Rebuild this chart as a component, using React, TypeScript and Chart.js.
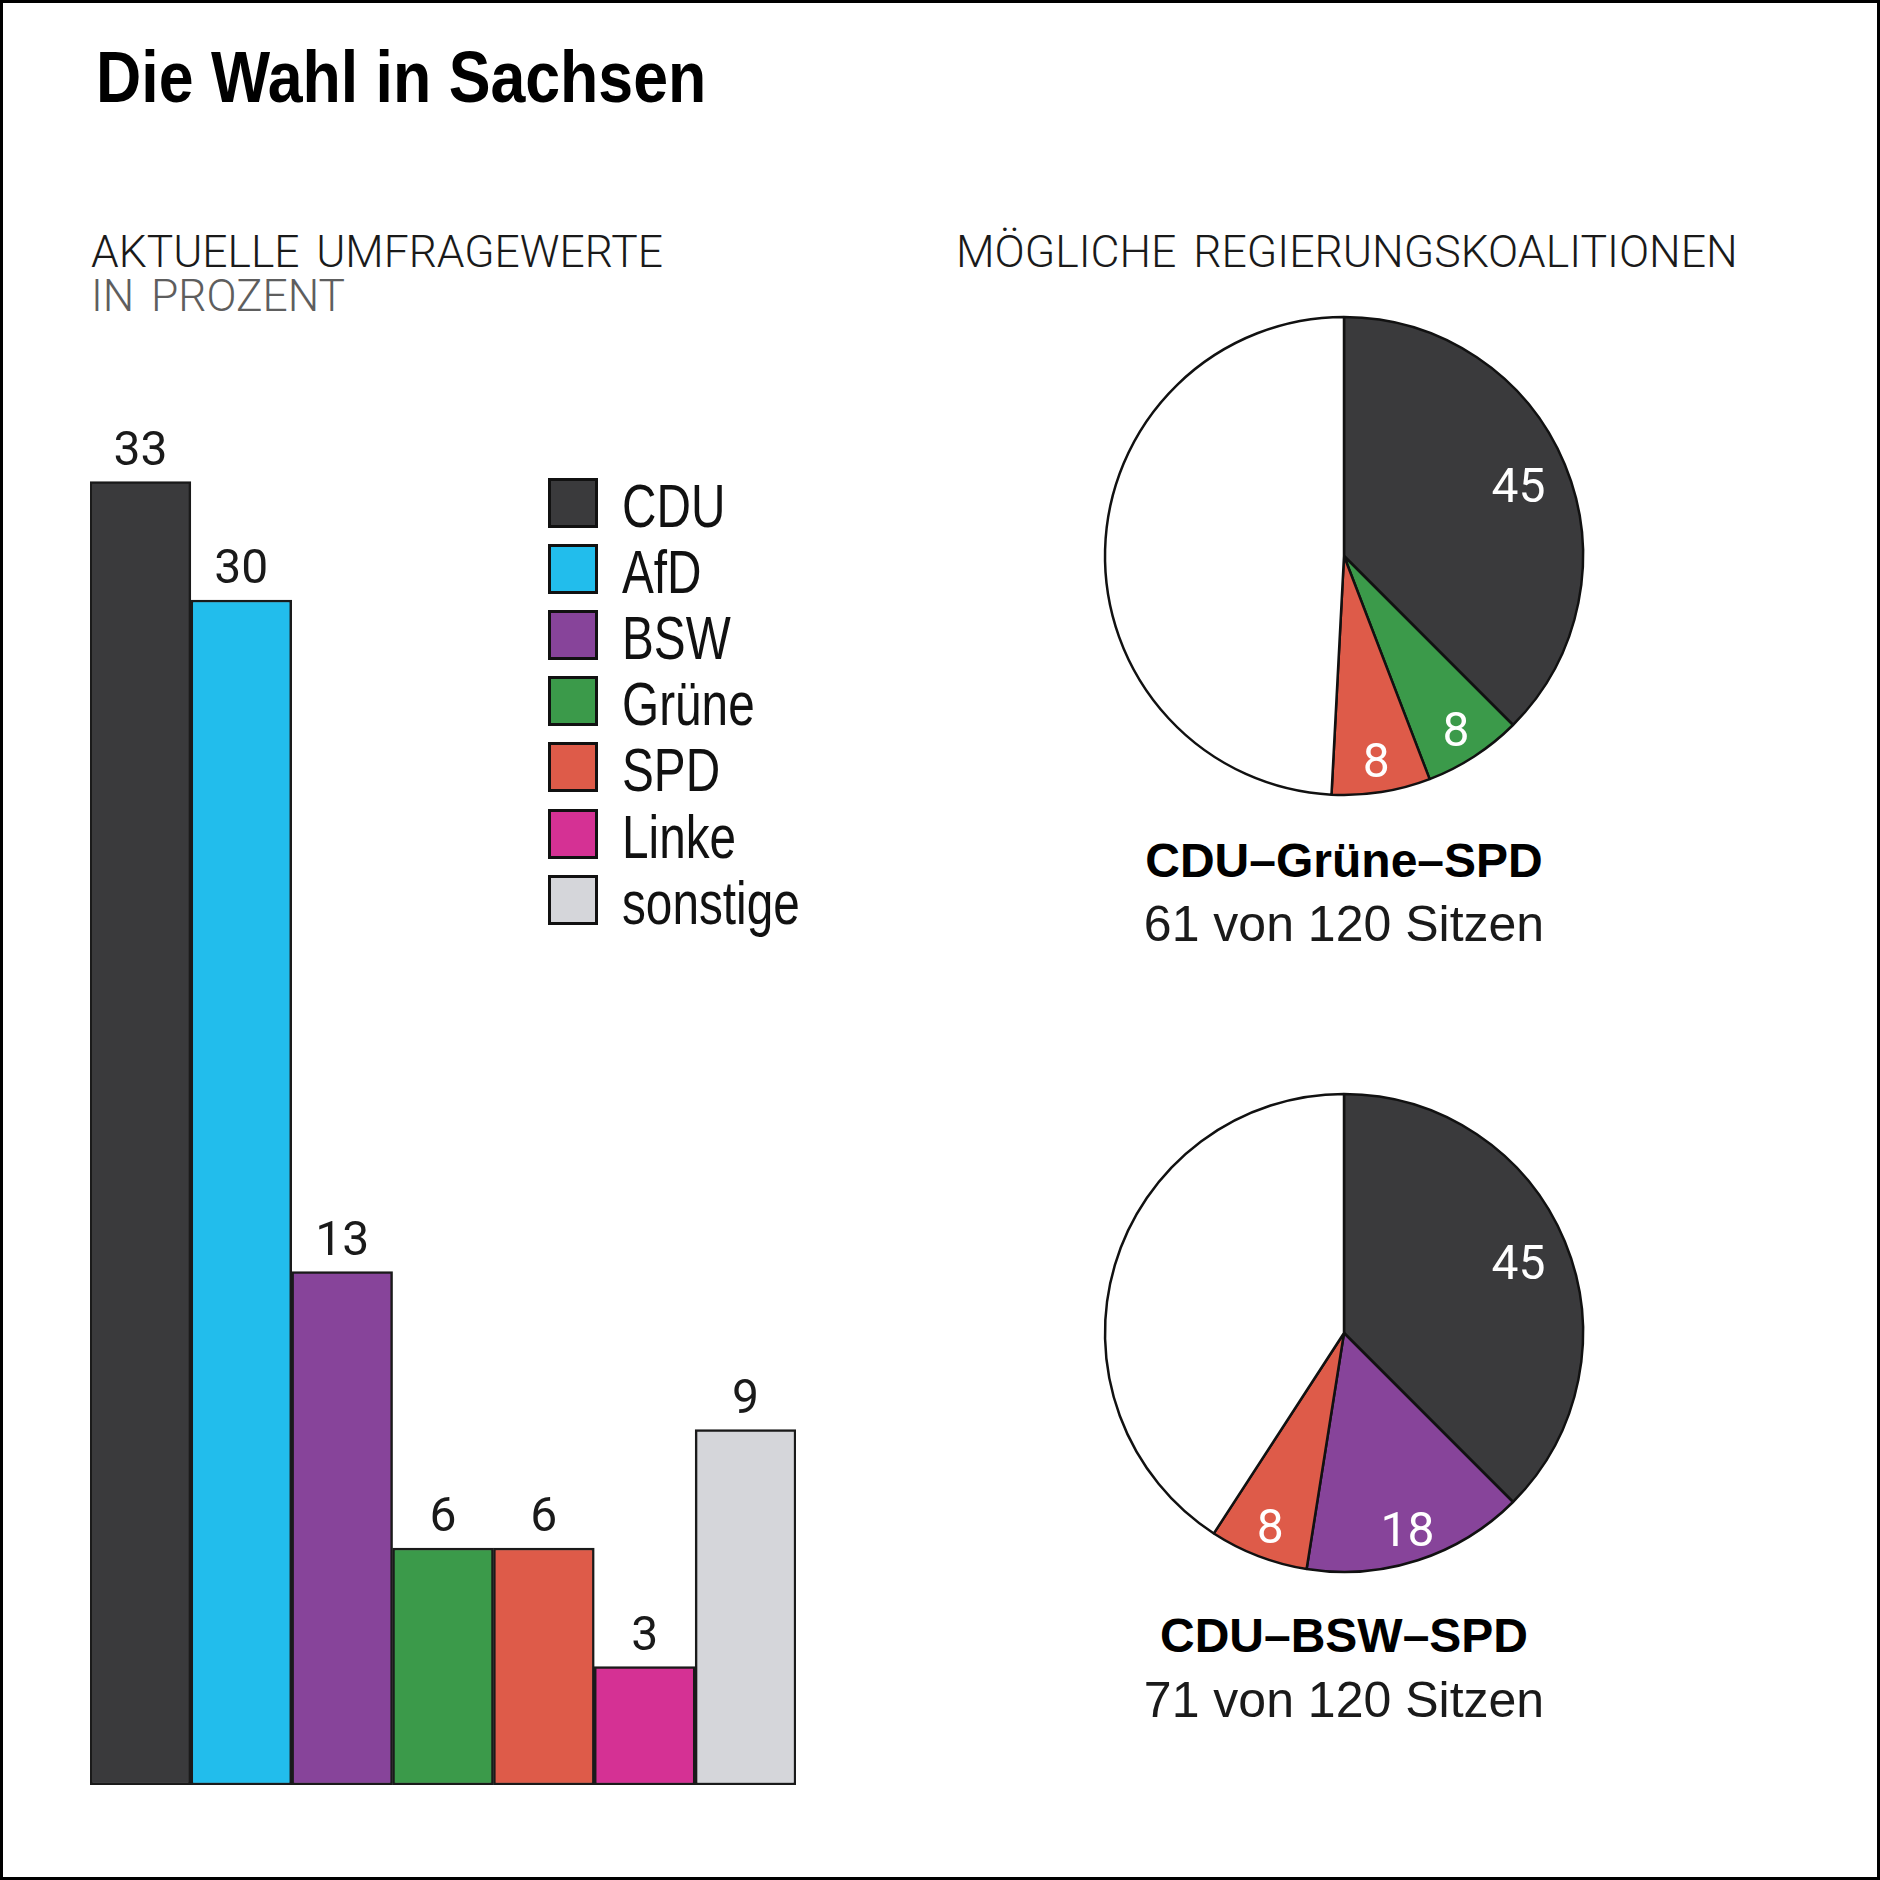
import React, { useEffect, useRef } from "react";
import { Chart, registerables } from "chart.js";

Chart.register(...registerables);

// ---------- data ----------
const parties = ["CDU", "AfD", "BSW", "Grüne", "SPD", "Linke", "sonstige"];
const pollValues = [33, 30, 13, 6, 6, 3, 9];
const partyColors = ["#3a3a3c", "#22bdec", "#87449a", "#3b9a4a", "#de5b49", "#d53194", "#d5d6da"];

const coalition1Parties = ["CDU", "Grüne", "SPD", ""];
const coalition1Seats = [45, 8, 8, 59];
const coalition1Colors = ["#3a3a3c", "#3b9a4a", "#de5b49", "#ffffff"];
const coalition1Name = "CDU–Grüne–SPD";
const coalition1Total = "61 von 120 Sitzen";

const coalition2Parties = ["CDU", "BSW", "SPD", ""];
const coalition2Seats = [45, 18, 8, 49];
const coalition2Colors = ["#3a3a3c", "#87449a", "#de5b49", "#ffffff"];
const coalition2Name = "CDU–BSW–SPD";
const coalition2Total = "71 von 120 Sitzen";

const title = "Die Wahl in Sachsen";
const leftHeading1 = "AKTUELLE UMFRAGEWERTE";
const leftHeading2 = "IN PROZENT";
const rightHeading = "MÖGLICHE REGIERUNGSKOALITIONEN";

// ---------- plugins ----------
const barLabelPlugin = {
  id: "barLabels",
  afterDatasetsDraw(chart: any) {
    const ctx = chart.ctx;
    const meta = chart.getDatasetMeta(0);
    const data = chart.data.datasets[0].data;
    ctx.save();
    ctx.font = "400 48px Roboto, 'Liberation Sans', sans-serif";
    ctx.fillStyle = "#1a1a1a";
    ctx.textAlign = "center";
    ctx.textBaseline = "alphabetic";
    meta.data.forEach((bar: any, i: number) => {
      ctx.fillText(String(data[i]), bar.x, bar.y - 17);
    });
    ctx.restore();
  },
};

const pieLabelPlugin = {
  id: "pieLabels",
  afterDatasetsDraw(chart: any) {
    const ctx = chart.ctx;
    const meta = chart.getDatasetMeta(0);
    const data = chart.data.datasets[0].data;
    const labels = chart.data.labels;
    ctx.save();
    ctx.font = "400 48px Roboto, 'Liberation Sans', sans-serif";
    ctx.fillStyle = "#ffffff";
    ctx.textAlign = "center";
    ctx.textBaseline = "alphabetic";
    meta.data.forEach((arc: any, i: number) => {
      if (!labels[i]) return;
      const p = arc.getProps(["x", "y", "startAngle", "endAngle", "outerRadius"], true);
      const mid = (p.startAngle + p.endAngle) / 2;
      const v = data[i];
      const f = v > 20 ? 0.79 : 0.86;
      ctx.fillText(
        String(v),
        p.x + Math.cos(mid) * p.outerRadius * f,
        p.y + Math.sin(mid) * p.outerRadius * f + 18
      );
    });
    ctx.restore();
  },
};

// ---------- components ----------
function BarChart() {
  const ref = useRef<HTMLCanvasElement | null>(null);
  useEffect(() => {
    if (!ref.current) return;
    const chart = new Chart(ref.current, {
      type: "bar",
      data: {
        labels: parties,
        datasets: [
          {
            data: pollValues,
            backgroundColor: partyColors,
            borderColor: "#1a1a1a",
            borderWidth: 2.5,
            borderSkipped: false,
            categoryPercentage: 1,
            barPercentage: 1,
          },
        ],
      },
      options: {
        animation: false,
        responsive: false,
        events: [],
        layout: { padding: 0 },
        plugins: { legend: { display: false }, tooltip: { enabled: false } },
        scales: {
          x: { display: false },
          y: { display: false, min: 0, max: 36 },
        },
      },
      plugins: [barLabelPlugin],
    } as any);
    return () => chart.destroy();
  }, []);
  return (
    <canvas
      ref={ref}
      width={706}
      height={1422}
      style={{ position: "absolute", left: 90, top: 363, width: 706, height: 1422 }}
    />
  );
}

function PieChart(props: { labels: string[]; values: number[]; colors: string[]; top: number }) {
  const ref = useRef<HTMLCanvasElement | null>(null);
  useEffect(() => {
    if (!ref.current) return;
    const chart = new Chart(ref.current, {
      type: "pie",
      data: {
        labels: props.labels,
        datasets: [
          {
            data: props.values,
            backgroundColor: props.colors,
            borderColor: "#111111",
            borderWidth: 2.5,
            hoverOffset: 0,
            radius: 239,
          },
        ],
      },
      options: {
        animation: false,
        responsive: false,
        events: [],
        layout: { padding: 0 },
        plugins: { legend: { display: false }, tooltip: { enabled: false } },
      },
      plugins: [pieLabelPlugin],
    } as any);
    return () => chart.destroy();
  }, []);
  return (
    <canvas
      ref={ref}
      width={520}
      height={520}
      style={{ position: "absolute", left: 1084, top: props.top, width: 520, height: 520 }}
    />
  );
}

const sansFont = "'Liberation Sans', Arial, sans-serif";
const lightFont = "Roboto, 'Liberation Sans', sans-serif";

function Text(props: {
  left: number;
  top: number;
  size: number;
  weight?: number;
  color?: string;
  family?: string;
  scaleX?: number;
  children: React.ReactNode;
  center?: boolean;
  wordSpacing?: number;
}) {
  const style: React.CSSProperties = {
    position: "absolute",
    left: props.center ? props.left - 400 : props.left,
    width: props.center ? 800 : undefined,
    textAlign: props.center ? "center" : "left",
    top: props.top,
    fontSize: props.size,
    lineHeight: `${props.size}px`,
    fontWeight: props.weight ?? 400,
    color: props.color ?? "#111",
    fontFamily: props.family ?? sansFont,
    whiteSpace: "nowrap",
    transform: props.scaleX ? `scaleX(${props.scaleX})` : undefined,
    transformOrigin: props.center ? "center top" : "left top",
    wordSpacing: props.wordSpacing,
  };
  return <div style={style}>{props.children}</div>;
}

function Legend() {
  return (
    <>
      {parties.map((p, i) => (
        <React.Fragment key={p}>
          <div
            style={{
              position: "absolute",
              left: 548,
              top: 478 + i * 66.1,
              width: 50,
              height: 50,
              boxSizing: "border-box",
              border: "3px solid #111",
              background: partyColors[i],
            }}
          />
          <Text left={622} top={475 + i * 66.1} size={62} scaleX={0.77} color="#111">
            {p}
          </Text>
        </React.Fragment>
      ))}
    </>
  );
}

export default function App() {
  return (
    <div
      style={{
        position: "absolute",
        left: 0,
        top: 0,
        width: 1880,
        height: 1880,
        boxSizing: "border-box",
        border: "3px solid #000",
        background: "#fff",
        overflow: "hidden",
      }}
    >
      <div style={{ position: "absolute", left: -3, top: -3, width: 1880, height: 1880 }}>
        <Text left={96} top={41} size={72} weight={700} scaleX={0.87} color="#000">
          {title}
        </Text>
        <Text left={91} top={229} size={45} weight={300} family={lightFont} color="#1a1a1a" wordSpacing={6} scaleX={0.985}>
          {leftHeading1}
        </Text>
        <Text left={91} top={273} size={45} weight={300} family={lightFont} color="#5e5e5e" wordSpacing={6} scaleX={0.985}>
          {leftHeading2}
        </Text>
        <Text left={956} top={229} size={45} weight={300} family={lightFont} color="#1a1a1a" wordSpacing={6} scaleX={0.99}>
          {rightHeading}
        </Text>
        <BarChart />
        <Legend />
        <PieChart labels={coalition1Parties} values={coalition1Seats} colors={coalition1Colors} top={296} />
        <PieChart labels={coalition2Parties} values={coalition2Seats} colors={coalition2Colors} top={1073} />
        <Text left={1344} top={837} size={48} weight={700} center color="#000">
          {coalition1Name}
        </Text>
        <Text left={1344} top={899} size={50} center color="#1a1a1a">
          {coalition1Total}
        </Text>
        <Text left={1344} top={1612} size={48} weight={700} center color="#000">
          {coalition2Name}
        </Text>
        <Text left={1344} top={1675} size={50} center color="#1a1a1a">
          {coalition2Total}
        </Text>
      </div>
    </div>
  );
}
